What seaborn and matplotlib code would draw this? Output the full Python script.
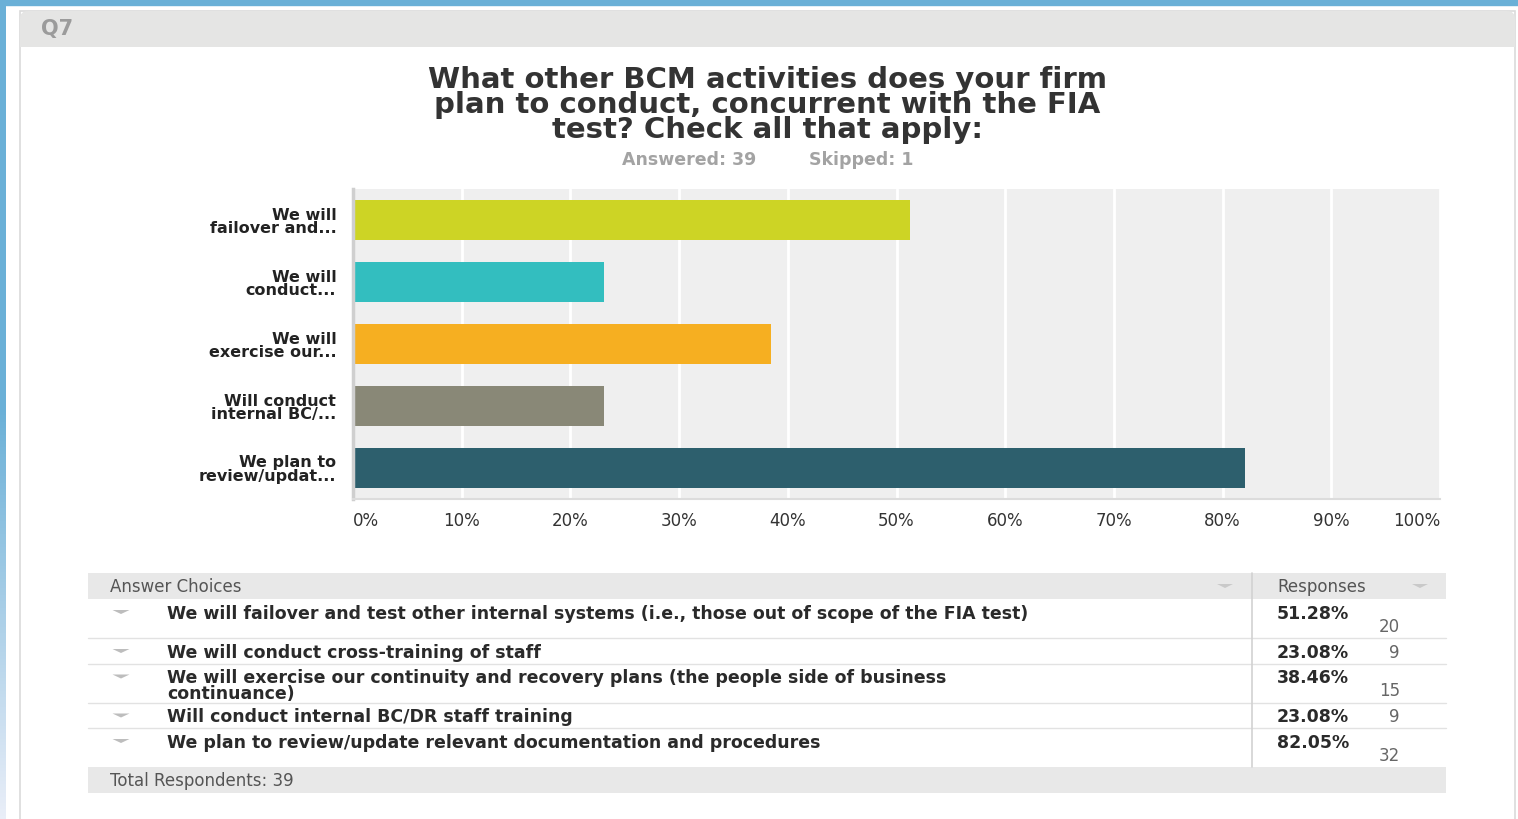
import matplotlib
matplotlib.use("Agg")
import matplotlib.pyplot as plt
import seaborn as sns
import pandas as pd
import numpy as np
from matplotlib.patches import FancyBboxPatch, Rectangle, Polygon
from matplotlib.colors import LinearSegmentedColormap

# ---- survey data -------------------------------------------------------
question_id = "Q7"
title_lines = [
    "What other BCM activities does your firm",
    "plan to conduct, concurrent with the FIA",
    "test? Check all that apply:",
]
answered = 39
skipped = 1
short_labels = [
    "We will\nfailover and...",
    "We will\nconduct...",
    "We will\nexercise our...",
    "Will conduct\ninternal BC/...",
    "We plan to\nreview/updat...",
]
choices = [
    "We will failover and test other internal systems (i.e., those out of scope of the FIA test)",
    "We will conduct cross-training of staff",
    "We will exercise our continuity and recovery plans (the people side of business\ncontinuance)",
    "Will conduct internal BC/DR staff training",
    "We plan to review/update relevant documentation and procedures",
]
percents = [51.28, 23.08, 38.46, 23.08, 82.05]
counts = [20, 9, 15, 9, 32]
total_respondents = 39
bar_colors = ["#CDD425", "#33BEBF", "#F6AF21", "#898877", "#2D5F6D"]
x_ticks = list(range(0, 101, 10))
x_tick_labels = [f"{t}%" for t in x_ticks]

# ---- figure ------------------------------------------------------------
W, H = 1518, 820
sns.set_theme(style="white")
plt.rcParams["font.family"] = ["DejaVu Sans"]

fig = plt.figure(figsize=(W / 100, H / 100), dpi=100, facecolor="white")

# full-figure canvas in pixel units for the page chrome and the table
bg = fig.add_axes([0, 0, 1, 1], zorder=0)
bg.set_xlim(0, W)
bg.set_ylim(H, 0)
bg.axis("off")

blue = "#6AB0D7"
grad = np.linspace(0, 1, 256).reshape(-1, 1)
edge_cmap = LinearSegmentedColormap.from_list("edge", [blue, blue, "#E9EEF8"])
bg.imshow(grad, cmap=edge_cmap, extent=[0, 6, H, 0], aspect="auto", zorder=1)
bg.add_patch(Rectangle((0, 0), W, 6, color=blue, zorder=2))

# question card
bg.add_patch(Rectangle((20, 12), 1495, H, facecolor="white",
                       edgecolor="#DADADA", lw=1.2, zorder=1))
bg.add_patch(FancyBboxPatch((20, 12), 1495, 36,
                            boxstyle="round,pad=0,rounding_size=8",
                            facecolor="#E5E5E4", edgecolor="none", zorder=2))
bg.add_patch(Rectangle((20, 30), 1495, 18, facecolor="#E5E5E4",
                       edgecolor="none", zorder=2))
bg.text(41, 29, question_id, fontsize=15, weight="bold", color="#9B9B9B",
        va="center", ha="left", zorder=3)

# title and answered / skipped counts
bg.text(767, 105, "\n".join(title_lines), fontsize=21, weight="bold",
        color="#333333", ha="center", va="center", linespacing=0.88, zorder=3)
bg.text(689, 160, f"Answered: {answered}", fontsize=12.5, weight="bold",
        color="#A3A3A3", ha="center", va="center", zorder=3)
bg.text(861, 160, f"Skipped: {skipped}", fontsize=12.5, weight="bold",
        color="#A3A3A3", ha="center", va="center", zorder=3)

# ---- bar chart ----------------------------------------------------------
ax = fig.add_axes([353 / W, 1 - 500 / H, 1087 / W, 310 / H], zorder=2)
df = pd.DataFrame({"label": short_labels, "percent": percents})
sns.barplot(data=df, x="percent", y="label", hue="label", palette=bar_colors,
            orient="h", width=0.66, saturation=1, legend=False, ax=ax,
            linewidth=0)
ax.set_facecolor("#EFEFEF")
ax.set_xlim(0, 100)
ax.set_ylim(4.5, -0.5)
ax.set_xticks(x_ticks)
ax.set_xticklabels(x_tick_labels)
ax.set_xlabel("")
ax.set_ylabel("")
ax.set_axisbelow(True)
ax.grid(axis="x", color="white", linewidth=2)
ax.grid(axis="y", visible=False)
for side in ("top", "right"):
    ax.spines[side].set_visible(False)
ax.spines["left"].set_color("#CFCFCF")
ax.spines["left"].set_linewidth(2.5)
ax.spines["bottom"].set_color("#DCDCDC")
ax.spines["bottom"].set_linewidth(1.5)
ax.tick_params(axis="x", length=0, pad=9, labelsize=12, labelcolor="#333333")
ax.tick_params(axis="y", length=0, pad=12, labelsize=11.5, labelcolor="#222222")
for lab in ax.get_yticklabels():
    lab.set_fontweight("bold")
    lab.set_linespacing(0.85)
xt = ax.get_xticklabels()
xt[0].set_ha("left")
xt[-1].set_ha("right")

# ---- response table ----------------------------------------------------
tx0, tx1, col_x = 88, 1446, 1252
head_top, head_h = 574, 26
bg.add_patch(Rectangle((tx0, head_top), tx1 - tx0, head_h,
                       facecolor="#E8E8E8", edgecolor="none", zorder=2))
bg.text(110, head_top + 13, "Answer Choices", fontsize=12, color="#555555",
        va="center", ha="left", zorder=3)
bg.text(1277, head_top + 13, "Responses", fontsize=12, color="#555555",
        va="center", ha="left", zorder=3)


def sort_arrow(x, y, w, h, color):
    bg.add_patch(Polygon([(x - w / 2, y - h / 2), (x + w / 2, y - h / 2), (x, y + h / 2)],
                         closed=True, facecolor=color, edgecolor="none", zorder=3))


sort_arrow(1225, head_top + 13, 16, 4, "#C9C9C9")
sort_arrow(1420, head_top + 13, 16, 4, "#C9C9C9")

y = head_top + head_h
row_edges = [y]
for choice, pct, n in zip(choices, percents, counts):
    tall = len(str(n)) > 1 or "\n" in choice
    row_h = 39 if tall else 25.5
    sort_arrow(121, y + 13, 17, 4, "#BDBDBD")
    bg.text(167, y + 5, choice, fontsize=12.5, weight="bold", color="#2A2A2A",
            va="top", ha="left", linespacing=0.82, zorder=3)
    bg.text(1277, y + 5, f"{pct:.2f}%", fontsize=12.5, weight="bold",
            color="#2A2A2A", va="top", ha="left", zorder=3)
    count_y = y + 18 if len(str(n)) > 1 else y + 5
    bg.text(1400, count_y, str(n), fontsize=12, color="#666666",
            va="top", ha="right", zorder=3)
    y += row_h
    row_edges.append(y)

for ye in row_edges[1:-1]:
    bg.plot([tx0, tx1], [ye, ye], color="#E2E2E2", lw=1, zorder=2)
bg.plot([col_x, col_x], [head_top, row_edges[-1]], color="#D2D2D2", lw=1.2, zorder=3)

foot_top = row_edges[-1]
bg.add_patch(Rectangle((tx0, foot_top), tx1 - tx0, 26,
                       facecolor="#E8E8E8", edgecolor="none", zorder=2))
bg.text(110, foot_top + 13, f"Total Respondents: {total_respondents}",
        fontsize=12, color="#555555", va="center", ha="left", zorder=3)

fig.savefig("out.png", dpi=100, facecolor="white")
